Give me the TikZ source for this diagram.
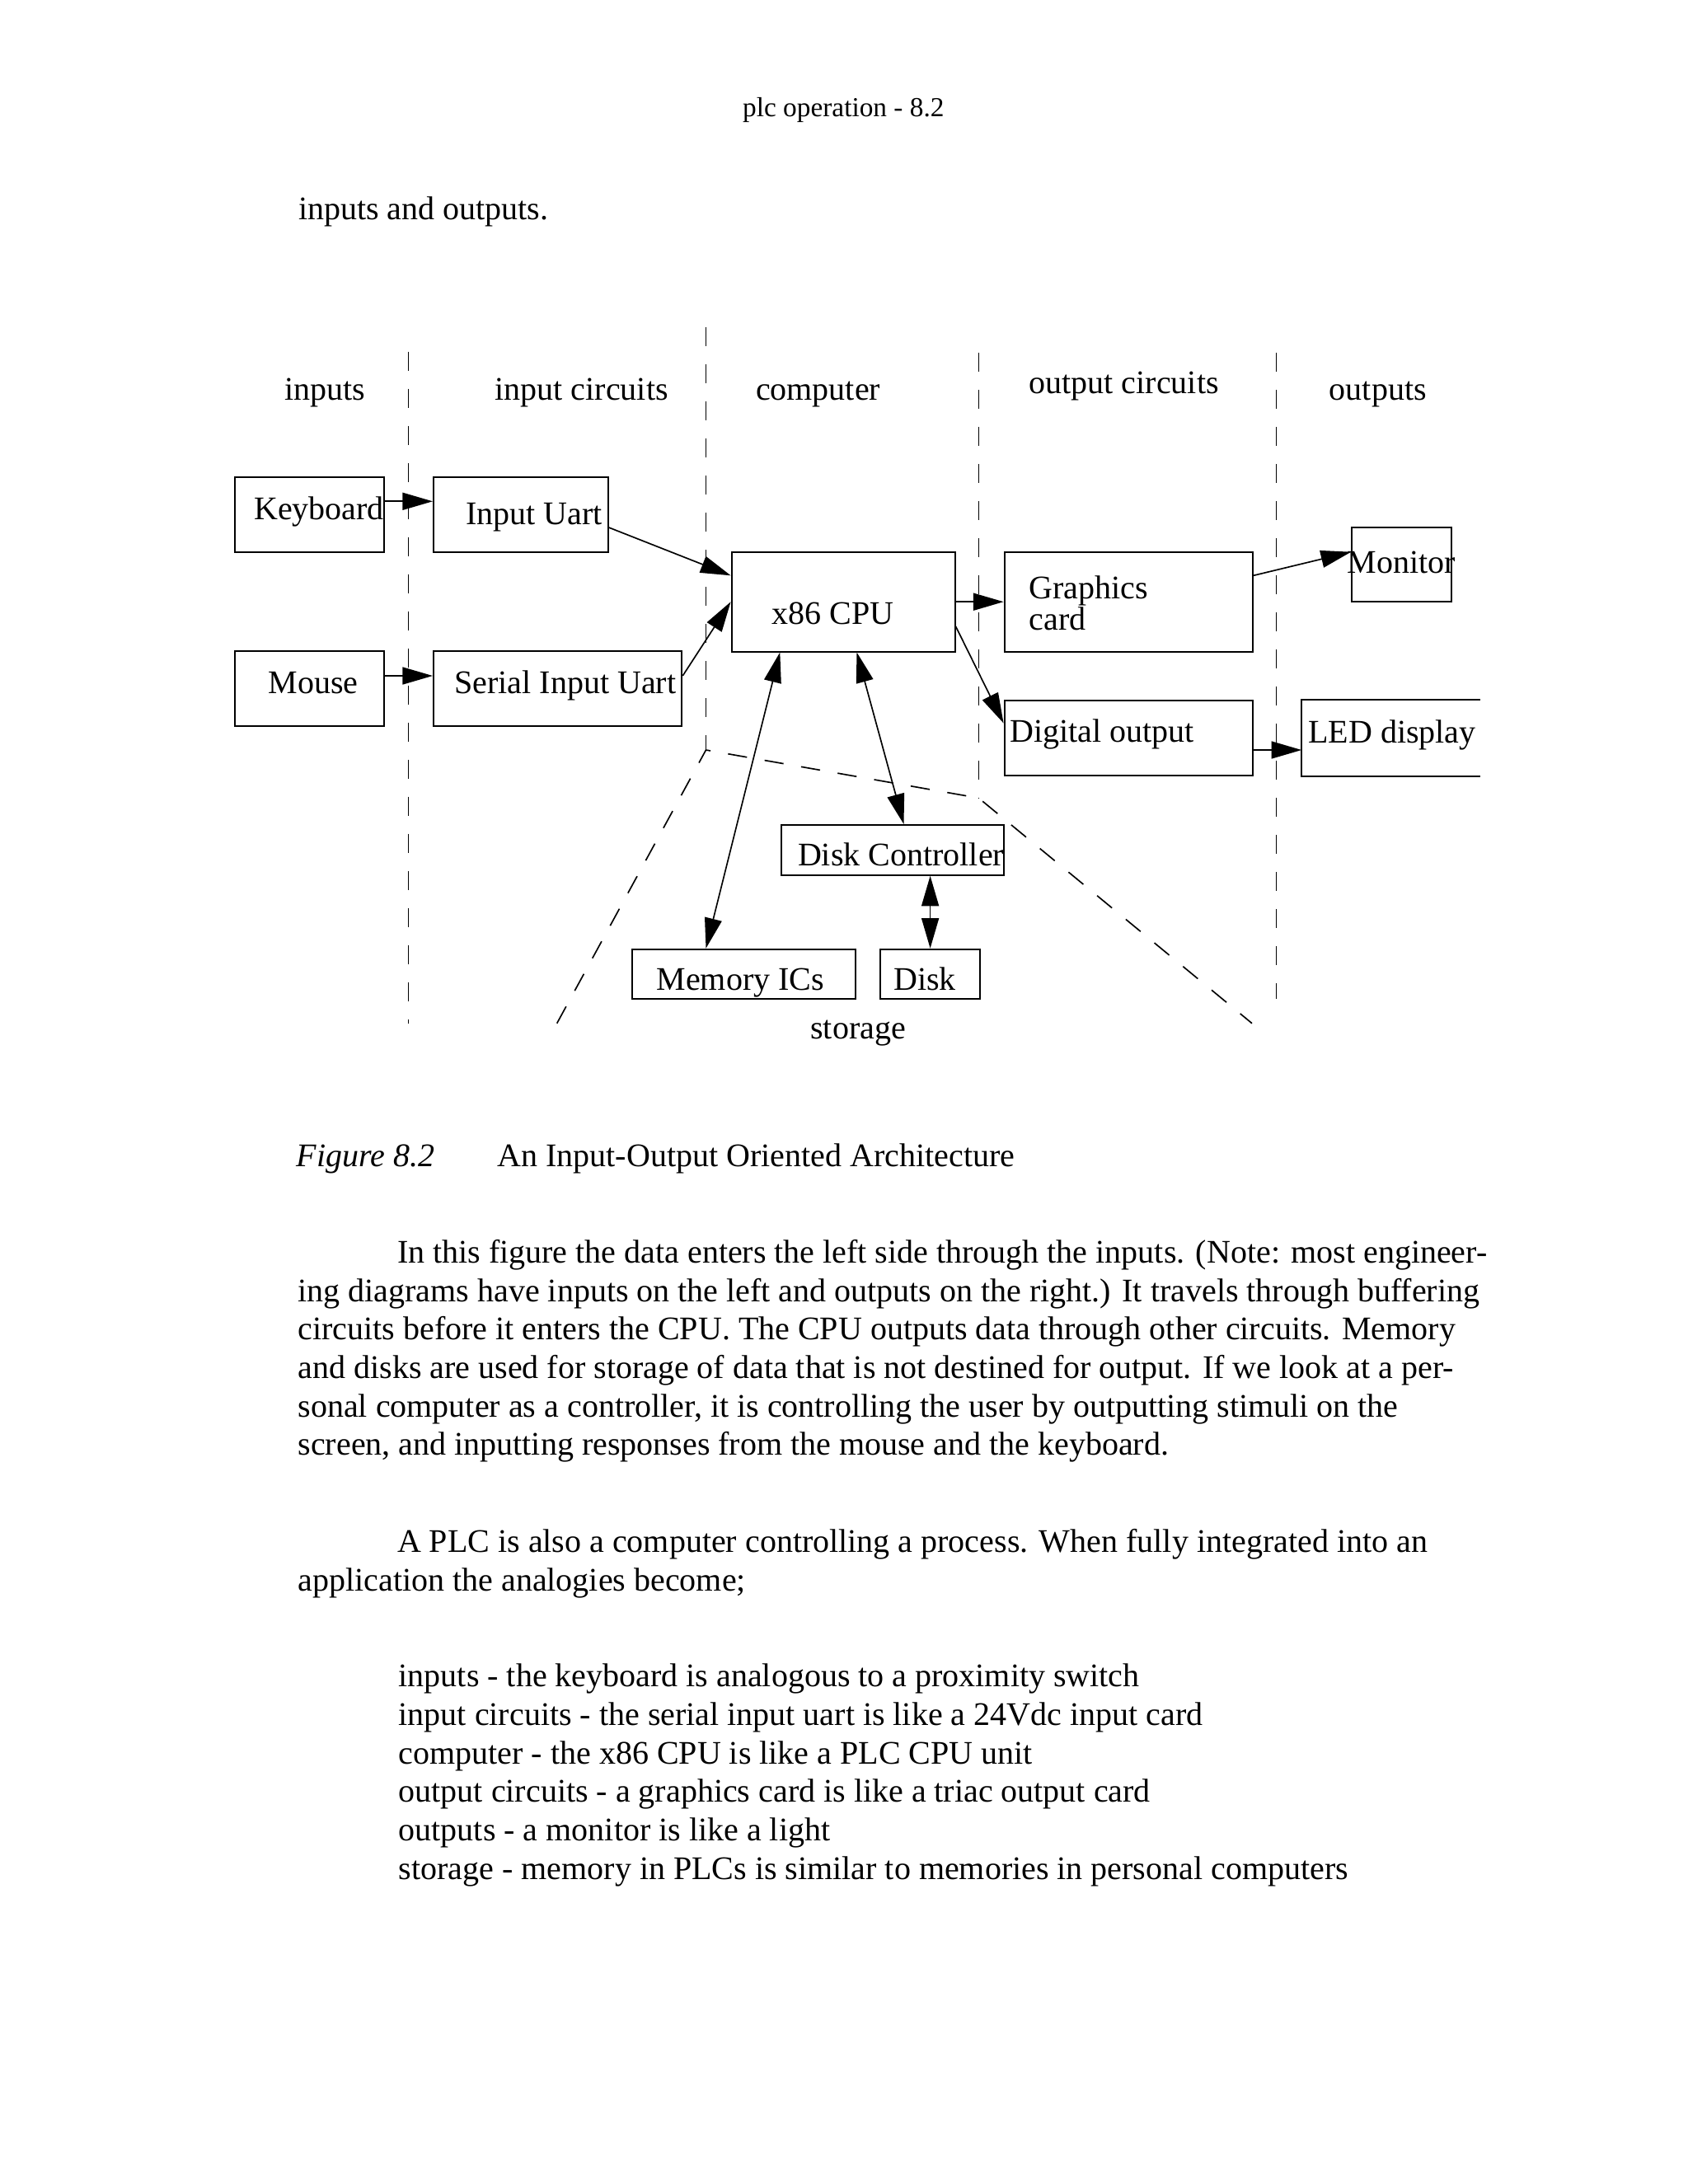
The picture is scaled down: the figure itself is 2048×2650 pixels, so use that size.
\documentclass[tikz,border=0pt]{standalone}
\usepackage{fontspec}
\setmainfont{Liberation Serif}
\usetikzlibrary{arrows.meta,calc}
\newcommand{\pxu}{0.010542cm}

\begin{document}
\begin{tikzpicture}[x=0.010542cm, y=-0.010542cm,
  font=\fontsize{12}{14}\selectfont,
  blk/.style={draw, line width=0.6pt, inner sep=0, anchor=north west},
  txt/.style={anchor=base west, inner sep=0},
  arr/.style={line width=0.5pt, -{Triangle[length=11pt,width=6.3pt]}},
  darr/.style={line width=0.5pt, {Triangle[length=11pt,width=6.3pt]}-{Triangle[length=11pt,width=6.3pt]}},
  zone/.style={line width=0.5pt, dash pattern=on 7pt off 6.5pt}]
\useasboundingbox (0,0) rectangle (2048,2650);

% page head
\node[txt, font=\fontsize{10}{12}\selectfont] (head) at (900.5,141.7) {plc operation - 8.2};
\node[txt] (intro) at (361.5,266.7) {inputs and outputs.};

% column dividers and storage area
\draw[zone] (495.4,426.7) -- (495.4,1242);
\draw[zone] (856.5,397) -- (856.5,910);
\draw[zone] (1187.4,427.8) -- (1187.4,968.3);
\draw[zone] (1548.6,427.8) -- (1548.6,1211.6);
\draw[zone] (675.7,1241.7) -- (856.5,910) -- (1187.4,968.3) -- (1519,1241.7);

% column headings
\node[txt] (hin) at (345,485) {inputs};
\node[txt] (hinc) at (600,485) {input circuits};
\node[txt] (hcomp) at (916.4,485) {computer};
\node[txt] (houtc) at (1248,477.6) {output circuits};
\node[txt] (hout) at (1612.3,485) {outputs};

% blocks
\node[blk, minimum width=181.2*\pxu, minimum height=90.7*\pxu] (kbd) at (283.8,578.3) {};
\node[blk, minimum width=211.6*\pxu, minimum height=90.7*\pxu] (iuart) at (525,578.3) {};
\node[blk, minimum width=181.2*\pxu, minimum height=90.7*\pxu] (mouse) at (283.8,789.3) {};
\node[blk, minimum width=301.3*\pxu, minimum height=90.7*\pxu] (suart) at (525,789.3) {};
\node[blk, minimum width=270.9*\pxu, minimum height=120.6*\pxu] (cpu) at (886.6,668.9) {};
\node[blk, minimum width=301.2*\pxu, minimum height=120.6*\pxu] (gfx) at (1217.6,668.9) {};
\node[blk, minimum width=301.2*\pxu, minimum height=90.7*\pxu] (dout) at (1217.6,848.8) {};
\node[blk, minimum width=121.1*\pxu, minimum height=89.9*\pxu] (mon) at (1639.2,639.1) {};
\node[blk, draw=none, minimum width=214.8*\pxu, minimum height=90.7*\pxu] (led) at (1579.2,848.8) {};
\draw[line width=0.6pt] (led.north east) -- (led.north west) -- (led.south west) -- (led.south east);
\node[blk, minimum width=270.5*\pxu, minimum height=60.7*\pxu] (dctl) at (946.9,1000) {};
\node[blk, minimum width=271.2*\pxu, minimum height=60*\pxu] (mem) at (765.5,1150.7) {};
\node[blk, minimum width=120.8*\pxu, minimum height=60*\pxu] (disk) at (1067.2,1150.7) {};

% block labels
\node[txt] (kbdl) at (307.6,630) {Keyboard};
\node[txt] (iuartl) at (564.6,636.7) {Input Uart};
\node[txt] (mousel) at (325,841.7) {Mouse};
\node[txt] (suartl) at (550.7,841.7) {Serial Input Uart};
\node[txt] (cpul) at (936,757) {x86 CPU};
\node[txt, align=left] (gfxl) at (1248,764.6) {Graphics\\[-2.6pt]card};
\node[txt] (doutl) at (1225,900.5) {Digital output};
\node[txt] (monl) at (1634.2,695.7) {Monitor};
\node[txt] (ledl) at (1586.7,901.7) {LED display};
\node[txt] (dctll) at (967.4,1050) {Disk Controller};
\node[txt] (meml) at (796,1201.7) {Memory ICs};
\node[txt] (diskl) at (1083.6,1201.7) {Disk};
\node[txt] (store) at (982.7,1260) {storage};

% data paths
\draw[arr] ($(kbd.north east)+(0,30)$) -- ($(iuart.north west)+(0,30)$);
\draw[arr] ($(mouse.north east)+(0,30.7)$) -- ($(suart.north west)+(0,30.7)$);
\draw[arr] ($(iuart.north east)+(0,61.7)$) -- ($(cpu.north west)+(0,29.4)$);
\draw[arr] ($(suart.north east)+(0,30.7)$) -- (cpu.west);
\draw[arr] (cpu.east) -- (gfx.west);
\draw[arr] ($(cpu.north east)+(0,91)$) -- ($(dout.north west)+(0,28.7)$);
\draw[arr] ($(gfx.north east)+(0,29.4)$) -- ($(mon.north west)+(0,30.6)$);
\draw[arr] ($(dout.north east)+(0,61.2)$) -- ($(led.north west)+(0,61.2)$);
\draw[darr] ($(cpu.south west)+(59.7,0)$) -- ($(mem.north west)+(91,0)$);
\draw[darr] ($(cpu.south west)+(152.9,0)$) -- ($(dctl.north west)+(149.6,0)$);
\draw[darr] (disk.north |- dctl.south) -- (disk.north);

% caption and text (multi-line nodes sit on their last line)
\node[txt] (fig) at (359,1415) {\itshape Figure 8.2};
\node[txt] (cap) at (603,1415) {An Input-Output Oriented Architecture};
\node[txt, align=left] (par1) at (361,1765.7) {\hspace*{0.5in}In this figure the data enters the left side through the inputs. (Note: most engineer-\\
ing diagrams have inputs on the left and outputs on the right.) It travels through buffering\\
circuits before it enters the CPU. The CPU outputs data through other circuits. Memory\\
and disks are used for storage of data that is not destined for output. If we look at a per-\\
sonal computer as a controller, it is controlling the user by outputting stimuli on the\\
screen, and inputting responses from the mouse and the keyboard.};
\node[txt, align=left] (par2) at (361,1930) {\hspace*{0.5in}A PLC is also a computer controlling a process. When fully integrated into an\\
application the analogies become;};
\node[txt, align=left] (list) at (483.2,2280) {inputs - the keyboard is analogous to a proximity switch\\
input circuits - the serial input uart is like a 24Vdc input card\\
computer - the x86 CPU is like a PLC CPU unit\\
output circuits - a graphics card is like a triac output card\\
outputs - a monitor is like a light\\
storage - memory in PLCs is similar to memories in personal computers};
\end{tikzpicture}
\end{document}
